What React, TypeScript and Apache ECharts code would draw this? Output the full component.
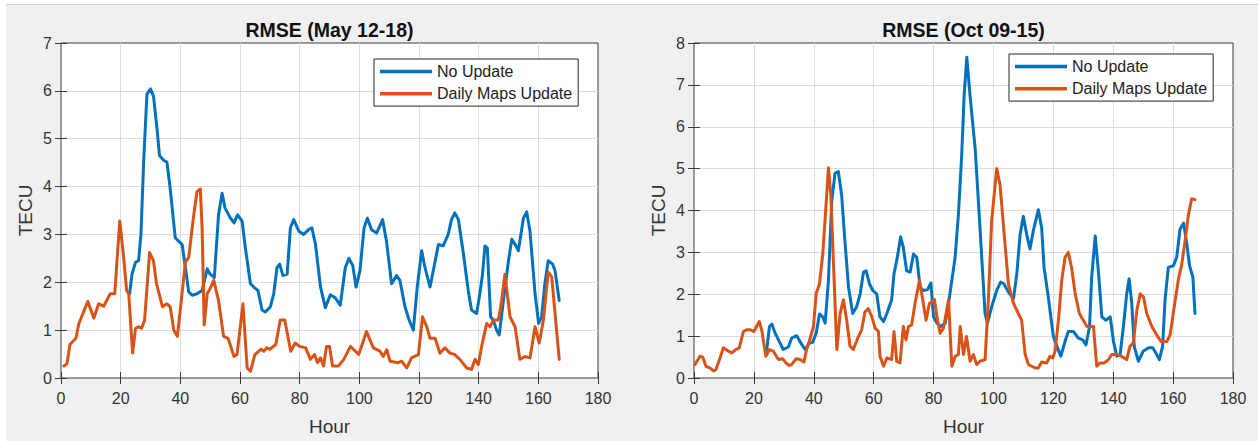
import React, { useEffect, useRef } from "react";
import * as echarts from "echarts";

const chartTitles = ["RMSE (May 12-18)", "RMSE (Oct 09-15)"];
const seriesNames = ["No Update", "Daily Maps Update"];
const xLabel = "Hour";
const yLabel = "TECU";
const yMaxes = [7, 8];

// Chart 1: May 12-18 — [hour, TECU]
const noUpdateMay: [number, number][] = [
  [23, 1.76], [23.8, 2.17], [25, 2.42], [26, 2.45], [26.8, 3.0], [27.7, 4.51], [28.8, 5.93], [30, 6.04],
  [31, 5.89], [32.2, 5.2], [33, 4.65], [34.4, 4.55], [35.5, 4.51], [36.6, 3.96], [38.3, 2.93], [39.4, 2.86],
  [40.6, 2.79], [41.7, 2.31], [42.8, 1.8], [44, 1.73], [45.6, 1.76], [47.3, 1.83], [49, 2.28], [50, 2.17],
  [51.4, 2.1], [52.8, 3.41], [54, 3.86], [55, 3.55], [56.8, 3.34], [58, 3.24], [59.2, 3.41], [60.7, 3.28],
  [61.8, 2.72], [63.5, 1.97], [64.6, 1.9], [66, 1.83], [67.4, 1.42], [68.5, 1.38], [70.2, 1.49], [71.3, 1.76],
  [72.4, 2.31], [73.3, 2.38], [74.4, 2.14], [75.8, 2.17], [76.9, 3.14], [78, 3.31], [79.7, 3.07], [81.3, 3.0],
  [83, 3.1], [84.1, 3.14], [85.3, 2.79], [87, 1.9], [88.6, 1.47], [90.3, 1.74], [92, 1.67], [93.6, 1.52],
  [95.3, 2.31], [96.5, 2.5], [97.8, 2.35], [98.9, 1.9], [100.2, 2.24], [101.6, 3.14], [102.7, 3.34], [104.1, 3.1],
  [105.8, 3.03], [107.8, 3.31], [109.1, 2.86], [110.8, 1.97], [112.5, 2.14], [113.6, 2.04], [115.3, 1.49], [116.7, 1.21],
  [118.1, 1.0], [119.4, 1.9], [120.9, 2.66], [122, 2.31], [123.7, 1.9], [125, 2.31], [126.5, 2.79], [128.1, 2.76],
  [129.8, 3.0], [130.9, 3.31], [132, 3.45], [133.2, 3.31], [134.9, 2.59], [136.5, 1.83], [137.6, 1.42], [139.3, 1.35],
  [140.4, 1.76], [141.3, 2.17], [142.1, 2.76], [142.9, 2.72], [144, 1.28], [144.9, 1.21], [146, 1.0], [146.9, 0.9],
  [148.3, 1.62], [150, 2.45], [151.1, 2.9], [152.5, 2.76], [153.3, 2.66], [155, 3.34], [156.1, 3.47], [157.2, 3.07],
  [158.9, 1.76], [160.1, 1.14], [161.1, 1.28], [162.2, 1.97], [163.3, 2.45], [164.8, 2.38], [165.6, 2.24], [167, 1.62],
];

const dailyUpdateMay: [number, number][] = [
  [1, 0.25], [2, 0.3], [3, 0.7], [5, 0.83], [6, 1.14], [9, 1.6], [11, 1.25], [12.6, 1.55],
  [14.3, 1.5], [16.5, 1.76], [18, 1.76], [19.7, 3.28], [21, 2.52], [22, 1.83], [22.7, 1.76], [24, 0.52],
  [25, 1.04], [26, 1.07], [27, 1.04], [28, 1.2], [29.7, 2.62], [31, 2.45], [32, 1.97], [34, 1.49],
  [35.5, 1.55], [36.6, 1.49], [37.8, 1.0], [39, 0.87], [40.2, 1.55], [41.7, 2.42], [42.8, 2.52], [44.5, 3.41],
  [45.6, 3.9], [46.7, 3.95], [47.3, 3.14], [48, 1.11], [49, 1.76], [50, 1.87], [51.2, 2.04], [52.8, 1.62],
  [54.5, 0.87], [56, 0.83], [58, 0.45], [59, 0.49], [61, 1.55], [62.4, 0.21], [63.5, 0.14], [65, 0.49],
  [67, 0.6], [68, 0.56], [69, 0.63], [70, 0.6], [72, 0.7], [73.5, 1.21], [75, 1.21], [77, 0.56],
  [78.5, 0.73], [80, 0.66], [82, 0.63], [83.6, 0.39], [85, 0.49], [86, 0.32], [87, 0.42], [88, 0.25],
  [89, 0.66], [90, 0.66], [91, 0.25], [93, 0.25], [94.8, 0.39], [97, 0.66], [99.8, 0.49], [102.4, 0.97],
  [104.7, 0.63], [106.9, 0.56], [108, 0.45], [109.2, 0.59], [110.3, 0.35], [113, 0.32], [114.2, 0.35], [115.9, 0.21],
  [117.5, 0.42], [119.8, 0.49], [121.2, 1.28], [122.6, 1.07], [123.7, 0.83], [125.4, 0.83], [127, 0.52], [128.7, 0.63],
  [130.4, 0.52], [132, 0.49], [133.7, 0.39], [136, 0.21], [137.6, 0.18], [138.8, 0.39], [139.9, 0.28], [141, 0.66],
  [142.7, 1.14], [143.8, 1.07], [144.9, 1.21], [146.6, 1.21], [147.7, 1.62], [148.8, 2.17], [150.5, 1.28], [152.2, 1.07],
  [153.8, 0.39], [155.5, 0.45], [157.2, 0.42], [158.9, 1.07], [160.3, 0.73], [161.7, 1.21], [163.3, 2.21], [164.5, 2.11],
  [167, 0.39],
];

// Chart 2: Oct 09-15 — [hour, TECU]
const noUpdateOct: [number, number][] = [
  [24.3, 0.68], [25.2, 1.23], [26, 1.29], [27.1, 1.07], [28.5, 0.87], [29.8, 0.68], [31.5, 0.74], [32.6, 0.95],
  [34.3, 1.01], [35.4, 0.87], [37.1, 0.68], [38.5, 0.83], [39.6, 0.85], [40.8, 1.07], [41.9, 1.53], [43, 1.46],
  [43.8, 1.31], [44.9, 2.33], [46, 4.22], [47.1, 4.89], [48.2, 4.93], [49.3, 4.37], [50.4, 3.27], [51.6, 2.17],
  [53, 1.54], [54.3, 1.7], [55.5, 2.01], [56.6, 2.53], [57.5, 2.56], [58.6, 2.25], [59.7, 2.09], [61, 2.01],
  [62.1, 1.46], [63.3, 1.35], [64.4, 1.54], [66, 1.86], [66.8, 2.49], [67.9, 2.88], [69, 3.37], [69.9, 3.12],
  [71, 2.56], [72.2, 2.53], [73.3, 2.96], [74.4, 2.88], [75.5, 2.17], [76.6, 2.09], [78, 2.11], [79.1, 2.27],
  [80, 1.46], [81.1, 1.31], [82.4, 1.23], [83.9, 1.31], [85, 1.78], [86.1, 2.33], [87.2, 2.88], [88.3, 3.9],
  [89.4, 5.32], [90.2, 6.73], [91.1, 7.66], [92.2, 6.73], [93.9, 5.48], [95.5, 3.59], [97.2, 1.54], [98, 1.31],
  [99.4, 1.7], [101.1, 2.09], [102.4, 2.29], [103.5, 2.25], [105, 2.05], [106.7, 1.9], [107.8, 2.49], [108.9, 3.43],
  [110, 3.86], [111.1, 3.43], [112.2, 3.08], [113.3, 3.51], [115, 4.02], [116.1, 3.59], [116.9, 2.64], [118.3, 1.94],
  [120, 0.99], [121.4, 0.72], [122.5, 0.52], [123.9, 0.87], [125, 1.11], [126.7, 1.11], [128.4, 0.95], [129.8, 0.91],
  [130.9, 0.79], [132.1, 1.23], [132.8, 2.41], [134, 3.39], [135.1, 2.49], [136.2, 1.46], [137.5, 1.38], [139, 1.46],
  [140.1, 0.87], [141.2, 0.52], [142.3, 0.56], [143.4, 1.23], [144.5, 2.01], [145.3, 2.37], [146.2, 1.78], [147, 0.76],
  [148.4, 0.4], [150, 0.64], [151.8, 0.72], [153.2, 0.72], [154.5, 0.56], [155.4, 0.44], [156.5, 0.76], [157.3, 1.86],
  [158.4, 2.64], [160.1, 2.68], [161.2, 2.88], [162.3, 3.55], [163.5, 3.7], [164.6, 3.19], [165.5, 2.68], [166.6, 2.41],
  [167.3, 1.54],
];

const dailyUpdateOct: [number, number][] = [
  [0.3, 0.32], [2, 0.52], [2.9, 0.5], [4, 0.28], [5.3, 0.24], [6.5, 0.17], [7.3, 0.2], [8.7, 0.48],
  [9.8, 0.72], [11.5, 0.64], [12.6, 0.6], [14, 0.68], [15.1, 0.72], [16.5, 1.11], [17.6, 1.15], [18.9, 1.15],
  [20, 1.11], [20.9, 1.23], [21.8, 1.35], [22.6, 1.15], [24, 0.52], [25.2, 0.68], [26.5, 0.64], [28.2, 0.44],
  [29.6, 0.46], [30.7, 0.36], [31.8, 0.3], [32.6, 0.32], [34.1, 0.46], [35.4, 0.44], [36.7, 0.38], [37.6, 0.68],
  [38.8, 0.95], [39.9, 1.23], [40.8, 2.01], [41.9, 2.25], [43, 2.96], [44.1, 4.14], [44.9, 5.02], [45.7, 4.37],
  [46.5, 2.88], [47.7, 0.68], [48.8, 1.54], [49.9, 1.87], [51, 1.38], [52.1, 0.76], [53.2, 0.68], [54.9, 0.99],
  [56, 1.15], [57.1, 1.58], [58.2, 1.66], [59.4, 1.46], [60.5, 1.19], [61.6, 1.11], [62.1, 0.52], [63.3, 0.28],
  [64.4, 0.48], [66, 0.44], [66.8, 1.11], [67.7, 0.4], [68.8, 0.36], [69.9, 1.23], [70.8, 0.91], [71.6, 1.23],
  [72.7, 1.27], [73.8, 1.78], [75.3, 2.33], [76.4, 1.86], [77.5, 1.38], [78.6, 1.78], [80.3, 1.87], [81.3, 1.38],
  [82.2, 1.07], [83.3, 1.19], [85, 1.86], [86.1, 0.28], [87.2, 0.52], [88.3, 0.56], [88.9, 1.23], [90, 0.56],
  [91, 0.99], [92.2, 0.4], [93.3, 0.56], [94.4, 0.32], [95.5, 0.4], [97.2, 0.44], [98.3, 1.86], [99.4, 3.75],
  [101.1, 5.0], [102.2, 4.61], [103.5, 3.51], [105, 2.25], [106.7, 1.78], [108.3, 1.54], [109.4, 1.38], [110.6, 0.56],
  [111.7, 0.32], [112.8, 0.28], [113.9, 0.24], [115, 0.24], [116.1, 0.38], [117.8, 0.36], [118.9, 0.52], [119.8, 0.48],
  [120.6, 0.64], [121.7, 1.38], [122.8, 2.33], [123.9, 2.88], [125, 3.0], [126.1, 2.64], [127.3, 2.01], [128.7, 1.54],
  [130, 1.38], [131.2, 1.23], [133.4, 1.23], [134.5, 0.28], [135.6, 0.36], [137, 0.36], [138.4, 0.44], [139.5, 0.56],
  [141.2, 0.56], [142.8, 0.52], [144.5, 0.44], [145.6, 0.76], [146.7, 0.83], [147.9, 1.62], [149, 2.01], [150.1, 1.94],
  [151.2, 1.54], [152.9, 1.23], [154.5, 1.03], [156, 0.87], [157.9, 0.87], [159, 1.03], [160.7, 1.86], [161.8, 2.37],
  [162.9, 2.72], [164, 3.27], [165.1, 3.9], [166.2, 4.28], [167.3, 4.26],
];

const BLUE = "#0072BD";
const ORANGE = "#D95319";
const AXIS = "#3a3a3a";
const GRIDC = "#dcdcdc";
const TXT = "#333333";
const FONT = "Liberation Sans, Arial, Helvetica, sans-serif";

const grids = [
  { left: 61, top: 43, width: 537, height: 339 },
  { left: 694, top: 43, width: 539, height: 339 },
];
const legendPos = [
  { left: 374, top: 59 },
  { left: 1009, top: 54 },
];

function buildOption() {
  const tickStyle = { inside: true, length: 6, lineStyle: { color: AXIS, width: 1 } };
  const xAxes: any[] = [];
  const yAxes: any[] = [];
  grids.forEach((_, i) => {
    xAxes.push({
      gridIndex: i, type: "value", min: 0, max: 180, interval: 20,
      axisLine: { show: false }, axisTick: tickStyle,
      axisLabel: { color: TXT, fontSize: 16, margin: 12, fontFamily: FONT },
      splitLine: { show: true, showMinLine: false, showMaxLine: false, lineStyle: { color: GRIDC, width: 1 } },
      name: xLabel, nameLocation: "middle", nameGap: 39,
      nameTextStyle: { color: TXT, fontSize: 19, fontFamily: FONT },
    });
    yAxes.push({
      gridIndex: i, type: "value", min: 0, max: yMaxes[i], interval: 1,
      axisLine: { show: false }, axisTick: tickStyle,
      axisLabel: { color: TXT, fontSize: 16, margin: 9, fontFamily: FONT },
      splitLine: { show: true, showMinLine: false, showMaxLine: false, lineStyle: { color: GRIDC, width: 1 } },
      name: yLabel, nameLocation: "middle", nameGap: 26,
      nameTextStyle: { color: TXT, fontSize: 19, fontFamily: FONT },
    });
  });
  grids.forEach((_, i) => {
    xAxes.push({
      gridIndex: i, type: "value", position: "top", min: 0, max: 180, interval: 20,
      axisLine: { show: false }, axisTick: tickStyle, axisLabel: { show: false }, splitLine: { show: false },
    });
    yAxes.push({
      gridIndex: i, type: "value", position: "right", min: 0, max: yMaxes[i], interval: 1,
      axisLine: { show: false }, axisTick: tickStyle, axisLabel: { show: false }, splitLine: { show: false },
    });
  });

  const data = [
    [noUpdateMay, dailyUpdateMay],
    [noUpdateOct, dailyUpdateOct],
  ];
  const colors = [BLUE, ORANGE];
  const series: any[] = [];
  data.forEach((pair, i) => {
    pair.forEach((d, j) => {
      series.push({
        name: seriesNames[j], type: "line", xAxisIndex: i, yAxisIndex: i,
        data: d, showSymbol: false, symbol: "none", color: colors[j], z: 3 + j,
        lineStyle: { color: colors[j], width: 3, cap: "round", join: "round" },
        silent: true,
      });
    });
  });

  return {
    animation: false,
    backgroundColor: "transparent",
    grid: grids.map((g) => ({
      ...g, show: true, backgroundColor: "#ffffff", borderColor: AXIS, borderWidth: 1, containLabel: false,
    })),
    xAxis: xAxes,
    yAxis: yAxes,
    legend: legendPos.map((p) => ({
      ...p, orient: "vertical", icon: "rect", itemWidth: 52, itemHeight: 3.5, itemGap: 6.3,
      padding: [4.4, 6, 4.4, 6], backgroundColor: "#ffffff", borderColor: "#262626", borderWidth: 1,
      borderRadius: 0, selectedMode: false, data: seriesNames,
      textStyle: { color: "#222", fontSize: 16, lineHeight: 16, fontFamily: FONT },
    })),
    graphic: chartTitles.map((t, i) => ({
      type: "text", x: grids[i].left + grids[i].width / 2, y: 30, z: 10,
      style: {
        text: t, textAlign: "center", textVerticalAlign: "middle",
        fontSize: 19.5, fontWeight: "bold", fontFamily: FONT, fill: "#111",
      },
    })),
    series,
  };
}

export default function App() {
  const ref = useRef<HTMLDivElement>(null);
  useEffect(() => {
    document.body.style.margin = "0";
    const chart = echarts.init(ref.current!, null, { renderer: "svg" });
    chart.setOption(buildOption() as any);
    return () => chart.dispose();
  }, []);
  return (
    <div style={{ position: "relative", width: 1258, height: 441, background: "#ffffff", overflow: "hidden" }}>
      <div style={{ position: "absolute", left: 6, top: 4, right: 0, bottom: 0, background: "#f0f0f0", borderTop: "1px solid #c9d3e3" }} />
      <div ref={ref} style={{ position: "absolute", left: 0, top: 0, width: 1258, height: 441 }} />
    </div>
  );
}
